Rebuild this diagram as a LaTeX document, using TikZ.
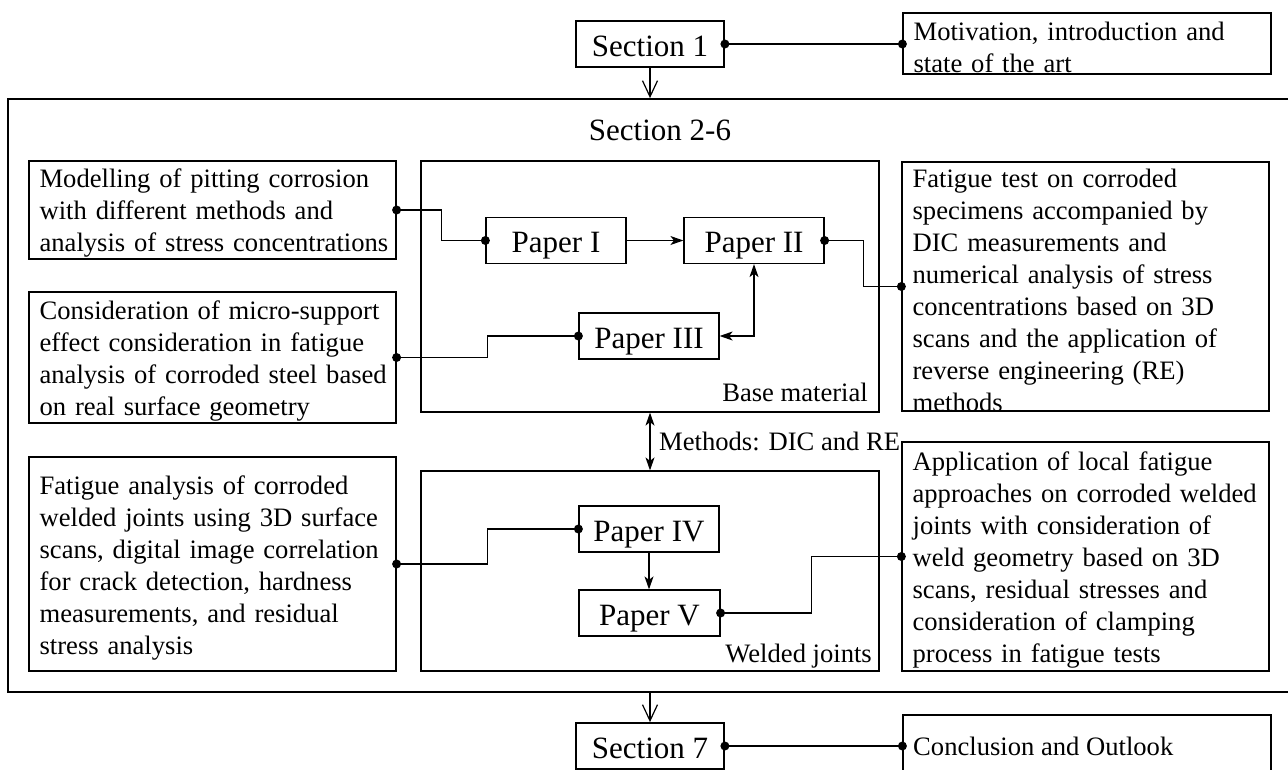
\documentclass[tikz,border=0pt]{standalone}
\usepackage{fontspec}
\setmainfont{Liberation Serif}
\usetikzlibrary{arrows.meta}
\newcommand\txtfont{\fontsize{26.6}{32}\selectfont}
\newcommand\ttlfont{\fontsize{31}{37}\selectfont}
\begin{document}
\begin{tikzpicture}[x=1pt,y=-1pt,
  box/.style={draw, line width=1.2pt, inner sep=0pt},
  heavybox/.style={draw, line width=1.8pt, inner sep=0pt, font=\ttlfont, text height=24pt, text depth=0pt, minimum width=148pt, minimum height=46pt},
  paper/.style={box, font=\ttlfont, text height=24pt, text depth=0pt, minimum width=140pt, minimum height=46pt},
  desc/.style={inner sep=0pt, font=\txtfont, align=left, text width=400pt, anchor=west},
  lab/.style={inner sep=0pt, font=\txtfont},
  conn/.style={line width=1.2pt},
  arr/.style={conn, -{Stealth[length=13pt,width=9pt,inset=3.5pt]}},
  darr/.style={conn, {Stealth[length=13pt,width=9pt,inset=3.5pt]}-{Stealth[length=13pt,width=9pt,inset=3.5pt]}},
  openarr/.style={conn, -{Straight Barb[length=16pt,width=15pt]}},
  dotr/.style={fill=black}
]
\useasboundingbox (0,0) rectangle (1288,769);

% outer frame
\node[box, line width=1.8pt, minimum width=1292pt, minimum height=593pt] (outer) at (654,395.5) {};
\node[inner sep=0pt, font=\ttlfont, anchor=base] (sec26) at (660,140) {Section 2-6};

% top
\node[heavybox] (s1) at (650,44) {Section 1};
\node[box, minimum width=368pt, minimum height=61pt] (mot) at (1087,43.5) {};
\node[desc] (mott) at ([xshift=11pt,yshift=-3.5pt]mot.west) {Motivation, introduction and\\state of the art};

% group boxes
\node[box, minimum width=458pt, minimum height=251pt] (base) at (650,286.5) {};
\node[box, minimum width=458pt, minimum height=200pt] (weld) at (650,571) {};
\node[lab, anchor=base east] (bmlab) at (868,401) {Base material};
\node[lab, anchor=base east] (wjlab) at (872,662) {Welded joints};
\node[lab, anchor=base west] (methlab) at (659,450) {Methods: DIC and RE};

% papers
\node[paper] (p1) at (556,240.5) {Paper I};
\node[paper] (p2) at (754,240.5) {Paper II};
\node[paper] (p3) at (649,336) {Paper III};
\node[paper] (p4) at (649,529) {Paper IV};
\node[paper, minimum width=141pt] (p5) at (649.5,613) {Paper V};

% left descriptions
\node[box, minimum width=367pt, minimum height=98pt] (mod) at (212.5,210) {};
\node[desc] (modt) at ([xshift=11pt,yshift=-3.5pt]mod.west) {Modelling of pitting corrosion\\with different methods and\\analysis of stress concentrations};
\node[box, minimum width=367pt, minimum height=131pt] (con) at (212.5,357.5) {};
\node[desc] (cont) at ([xshift=11pt,yshift=-3.5pt]con.west) {Consideration of micro-support\\effect consideration in fatigue\\analysis of corroded steel based\\on real surface geometry};
\node[box, minimum width=367pt, minimum height=214pt] (fan) at (212.5,564) {};
\node[desc] (fant) at ([xshift=11pt,yshift=-3.5pt]fan.west) {Fatigue analysis of corroded\\welded joints using 3D surface\\scans, digital image correlation\\for crack detection, hardness\\measurements, and residual\\stress analysis};

% right descriptions
\node[box, minimum width=367pt, minimum height=249pt] (ftest) at (1085.5,286.5) {};
\node[desc] (ftestt) at ([xshift=11pt,yshift=-3.5pt]ftest.west) {Fatigue test on corroded\\specimens accompanied by\\DIC measurements and\\numerical analysis of stress\\concentrations based on 3D\\scans and the application of\\reverse engineering (RE)\\methods};
\node[box, minimum width=367pt, minimum height=229pt] (app) at (1085.5,556.5) {};
\node[desc] (appt) at ([xshift=11pt,yshift=-3.5pt]app.west) {Application of local fatigue\\approaches on corroded welded\\joints with consideration of\\weld geometry based on 3D\\scans, residual stresses and\\consideration of clamping\\process in fatigue tests};

% bottom
\node[heavybox] (s7) at (650,746) {Section 7};
\node[box, minimum width=368pt, minimum height=70pt] (concl) at (1087,750) {};
\node[lab, anchor=base west] (conclt) at (913,755) {Conclusion and Outlook};

% connectors
\draw[conn] (s1.east) -- (mot.west |- s1.east);
\draw[openarr] (s1.south) -- (s1.south |- outer.north);
\draw[openarr] (s7.north |- outer.south) -- (s7.north);
\draw[conn] (s7.east) -- (concl.west |- s7.east);

\draw[conn] (mod.east) -- ++(45,0) |- (p1.west);
\draw[conn] (con.east) -- ++(91,0) |- (p3.west);
\draw[conn] (fan.east) -- ++(91,0) |- (p4.west);
\draw[conn] (p2.east) -- ++(39,0) |- (ftest.west);
\draw[conn] (p5.east) -- ++(91,0) |- (app.west);

\draw[arr] (p1.east) -- (p2.west);
\draw[darr] (p3.east) -| (p2.south);
\draw[darr] (base.south) -- (weld.north);
\draw[arr] (p4.south) -- (p4.south |- p5.north);

% dots
\foreach \pt in {s1.east, mod.east, p1.west, con.east, p3.west, p2.east, ftest.west, fan.east, p4.west, p5.east, app.west, s7.east}
  \fill[dotr] (\pt) circle (4.5pt);
\fill[dotr] (mot.west |- s1.east) circle (4.5pt);
\fill[dotr] (concl.west |- s7.east) circle (4.5pt);
\end{tikzpicture}
\end{document}
